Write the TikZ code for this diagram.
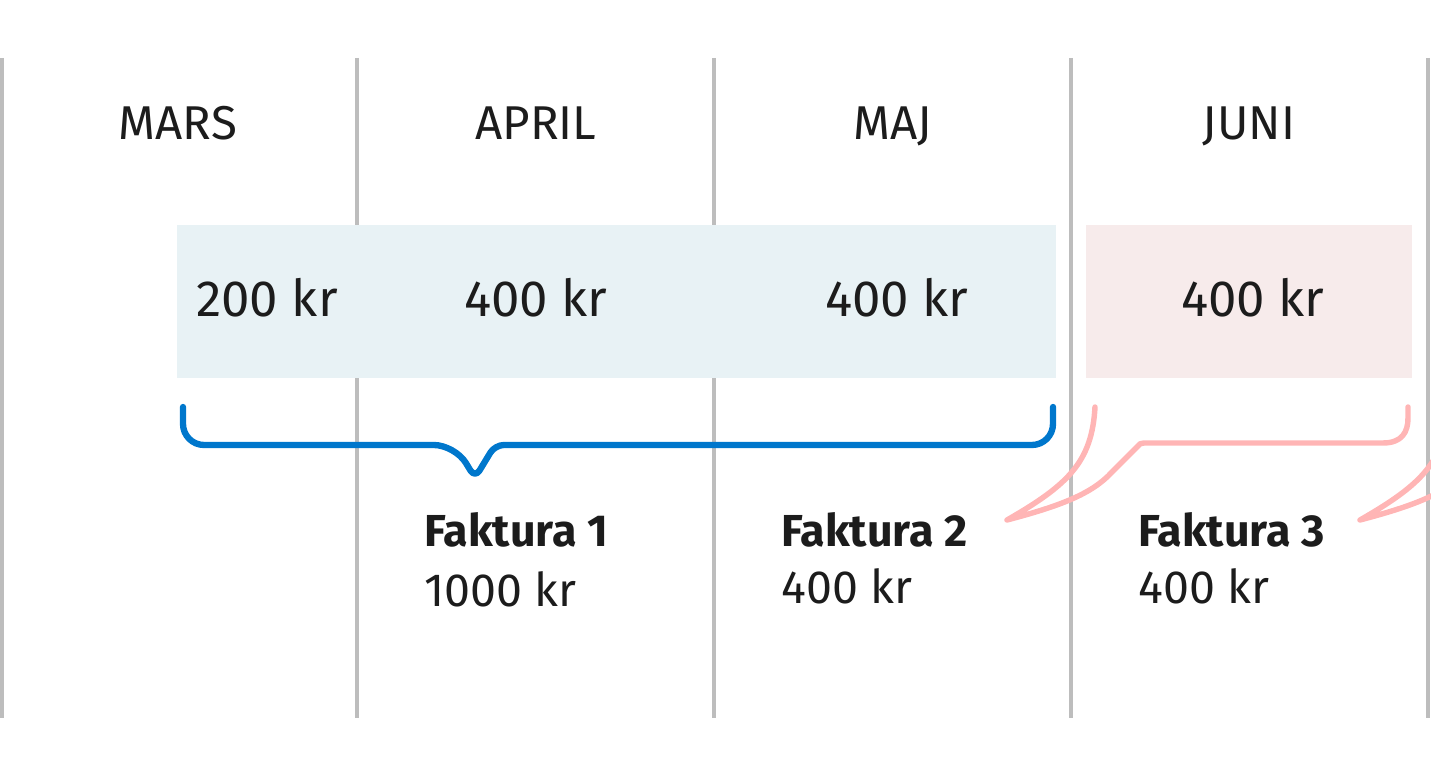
\documentclass[tikz,border=0pt]{standalone}
\usepackage{fontspec}
\setmainfont{Fira Sans}
\usetikzlibrary{positioning}

\definecolor{gridgray}{HTML}{BDBDBD}
\definecolor{inkblack}{HTML}{1C1C1C}
\definecolor{paidblue}{HTML}{E8F2F5}
\definecolor{duepink}{HTML}{F7EBEB}
\definecolor{braceblue}{HTML}{0077CC}
\definecolor{bracepink}{HTML}{FFB5B5}

\begin{document}
\begin{tikzpicture}[
  x=0.02cm, y=-0.02cm,
  font=\fontsize{27}{32}\selectfont, text=inkblack,
  month/.style={anchor=base, inner sep=0pt},
  amount/.style={anchor=base, inner sep=0pt, font=\fontsize{29}{34}\selectfont},
  invoice/.style={anchor=base west, inner sep=0pt, font=\fontsize{25.5}{30}\selectfont\bfseries},
  invsum/.style={anchor=base west, inner sep=0pt, font=\fontsize{26.5}{30}\selectfont},
  divider/.style={draw=gridgray, line width=1.8pt},
  bluebrace/.style={draw=braceblue, line width=3.6pt, line cap=round, line join=round, rounded corners=12pt},
  pinkbrace/.style={draw=bracepink, line width=3.1pt, line cap=round, line join=round}
]
\useasboundingbox (0,0) rectangle (1431,777);

% month dividers
\foreach \x in {2,357,714,1071,1428}
  \draw[divider] (\x,58) -- (\x,718);

% month names
\node[month] (mars)  at (178,140)  {MARS};
\node[month] (april) at (536,140)  {APRIL};
\node[month] (maj)   at (893,140)  {MAJ};
\node[month] (juni)  at (1249,140) {JUNI};

% payment periods
\fill[paidblue] (177,225) rectangle (1056,378);
\fill[duepink] (1086,225) rectangle (1412,378);

\node[amount] (amars)  at (267,316)  {200 kr};
\node[amount] (aapril) at (536,316)  {400 kr};
\node[amount] (amaj)   at (897,316)  {400 kr};
\node[amount] (ajuni)  at (1253,316) {400 kr};

% braces
\draw[bluebrace] (183,407) -- (183,445) -- (455,445)
  [rounded corners=5pt] -- (475,478) -- (495,445)
  [rounded corners=12pt] -- (1053,445) -- (1053,407);

\begin{scope}
\clip (0,0) rectangle (1431,777);
\foreach \dx in {0,353}
  \draw[pinkbrace, xshift=\dx*0.02cm]
    (1095,407) .. controls (1092,462) and (1068,485) .. (1007,520)
    .. controls (1060,506) and (1092,494) .. (1112,472)
    -- (1138,446) .. controls (1139,444) and (1141,443) .. (1144,443)
    -- (1383,443) .. controls (1402,443) and (1408,432) .. (1408,418) -- (1408,407);
\end{scope}

% invoices
\node[invoice] (fak1) at (424,546)  {Faktura 1};
\node[invsum]  (sum1) at (424,606)  {1000 kr};
\node[invoice] (fak2) at (781,546)  {Faktura 2};
\node[invsum]  (sum2) at (781,603)  {400 kr};
\node[invoice] (fak3) at (1138,546) {Faktura 3};
\node[invsum]  (sum3) at (1138,603) {400 kr};
\end{tikzpicture}
\end{document}
